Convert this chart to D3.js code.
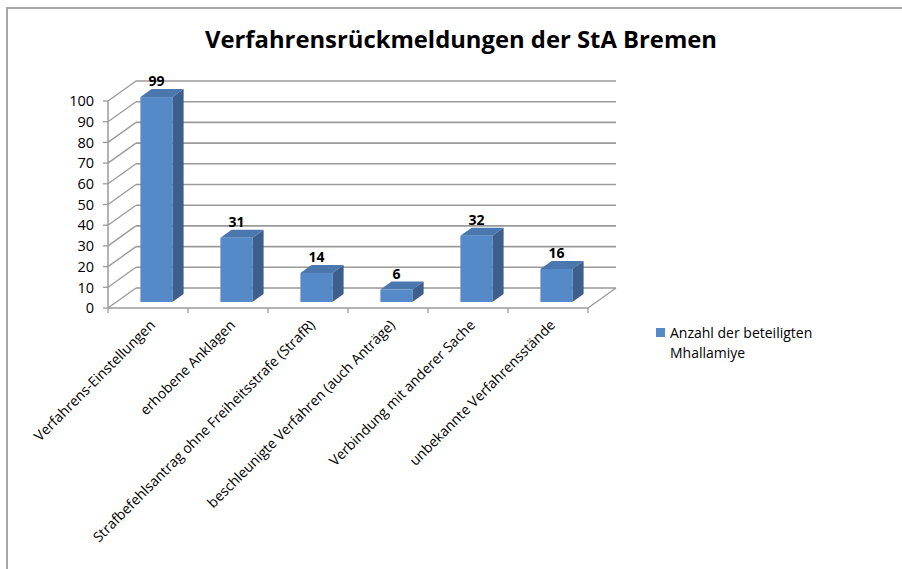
<!DOCTYPE html>
<html><head><meta charset="utf-8">
<script src="https://cdn.jsdelivr.net/npm/d3@7"></script>
<style>body{margin:0;background:#fff}svg{display:block}text{font-family:"Open Sans",sans-serif}</style>
</head><body>
<script>
const title = "Verfahrensrückmeldungen der StA Bremen";
const categories = ["Verfahrens-Einstellungen","erhobene Anklagen","Strafbefehlsantrag ohne Freiheitsstrafe (StrafR)","beschleunigte Verfahren (auch Anträge)","Verbindung mit anderer Sache","unbekannte Verfahrensstände"];
const values = [99,31,14,6,32,16];
const yTicks = [0,10,20,30,40,50,60,70,80,90,100];
const seriesName = ["Anzahl der beteiligten","Mhallamiye"];

const W=902,H=569;
const svg=d3.select("body").append("svg").attr("width",W).attr("height",H);
const DX=28, DY=-20; // 3D depth offset
const x=d3.scaleBand().domain(categories).range([108,588]);
const y=d3.scaleLinear().domain([0,100]).range([308,101]);
const grid="#9a9a9a";

// chart border
svg.append("path").attr("d","M7,569V8H902").attr("fill","none").attr("stroke","#a8a8a8").attr("stroke-width",2);

// title
svg.append("text").attr("x",461).attr("y",48).attr("text-anchor","middle")
  .attr("font-size",24).attr("font-weight","bold").attr("fill","#000")
  .attr("textLength",512).attr("lengthAdjust","spacingAndGlyphs").text(title);

// back wall gridlines and left wall diagonals
const g=svg.append("g");
yTicks.forEach(t=>{
  const yf=y(t);
  g.append("line").attr("x1",108+DX).attr("x2",588+DX).attr("y1",yf+DY).attr("y2",yf+DY)
    .attr("stroke",grid).attr("stroke-width",1.6);
  g.append("line").attr("x1",108).attr("y1",yf).attr("x2",108+DX).attr("y2",yf+DY)
    .attr("stroke",grid).attr("stroke-width",1.3);
  g.append("line").attr("x1",103).attr("x2",108).attr("y1",yf).attr("y2",yf)
    .attr("stroke",grid).attr("stroke-width",1.3);
  g.append("text").attr("x",94).attr("y",yf).attr("dy","0.36em").attr("text-anchor","end")
    .attr("font-size",14.5).attr("fill","#000").text(t);
});
// front vertical axis
g.append("line").attr("x1",108).attr("x2",108).attr("y1",y(0)).attr("y2",y(100)).attr("stroke",grid).attr("stroke-width",1.5);
// floor front edge & right edge
g.append("line").attr("x1",108).attr("x2",588).attr("y1",y(0)).attr("y2",y(0)).attr("stroke",grid).attr("stroke-width",1.6);
g.append("line").attr("x1",588).attr("y1",y(0)).attr("x2",588+DX).attr("y2",y(0)+DY).attr("stroke",grid).attr("stroke-width",1.3);
// category ticks
x.domain().concat([null]).forEach((c,i)=>{
  const xx = c===null ? 588 : x(c);
  g.append("line").attr("x1",xx).attr("x2",xx).attr("y1",y(0)).attr("y2",y(0)+5).attr("stroke",grid).attr("stroke-width",1.3);
});

// bars
const f0=0.3, fd=0.4, bw=32;
const bars=svg.append("g");
categories.forEach((c,i)=>{
  const v=values[i];
  const cx=x(c)+x.bandwidth()/2;
  const x0=cx-bw/2+f0*DX, x1=x0+bw;
  const yb=y(0)+f0*DY, yt=y(v)+f0*DY;
  const ox=fd*DX, oy=fd*DY;
  bars.append("path").attr("d",`M${x1},${yb}L${x1+ox},${yb+oy}L${x1+ox},${yt+oy}L${x1},${yt}Z`).attr("fill","#3c5f8d");
  bars.append("path").attr("d",`M${x0},${yt}L${x1},${yt}L${x1+ox},${yt+oy}L${x0+ox},${yt+oy}Z`).attr("fill","#4977ae");
  bars.append("rect").attr("x",x0).attr("y",yt).attr("width",bw).attr("height",yb-yt).attr("fill","#5689c7");
  bars.append("text").attr("x",x0+bw/2).attr("y",yt-11).attr("text-anchor","middle")
    .attr("font-size",14).attr("font-weight","bold").attr("fill","#000").text(v);
  svg.append("text").attr("transform",`translate(${cx+8},${y(0)+18}) rotate(-45)`)
    .attr("text-anchor","end").attr("font-size",14).attr("fill","#000").text(c);
});

// legend
svg.append("rect").attr("x",656).attr("y",328).attr("width",9).attr("height",9).attr("fill","#5689c7");
seriesName.forEach((s,i)=>{
  svg.append("text").attr("x",670).attr("y",338+i*20).attr("font-size",14).attr("fill","#000").text(s);
});
</script>
</body></html>
